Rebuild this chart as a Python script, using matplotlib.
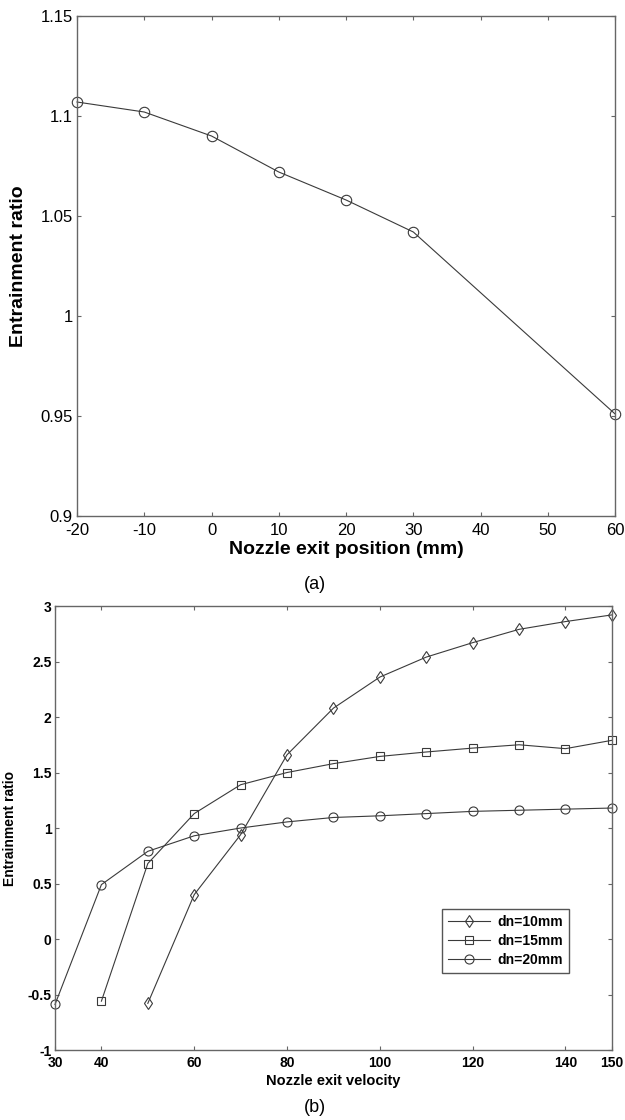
import matplotlib.pyplot as plt

plt.rcParams['font.family'] = ['Liberation Sans', 'DejaVu Sans']
plt.rcParams['axes.unicode_minus'] = False

# (a) entrainment ratio vs nozzle exit position
pos_mm = [-20, -10, 0, 10, 20, 30, 60]
ratio_pos = [1.107, 1.102, 1.090, 1.072, 1.058, 1.042, 0.951]
pos_ticks = [-20, -10, 0, 10, 20, 30, 40, 50, 60]
ratio_ticks_a = [0.9, 0.95, 1.0, 1.05, 1.1, 1.15]
ratio_labels_a = ['0.9', '0.95', '1', '1.05', '1.1', '1.15']

# (b) entrainment ratio vs nozzle exit velocity
vel_10 = [50, 60, 70, 80, 90, 100, 110, 120, 130, 140, 150]
ratio_10 = [-0.58, 0.40, 0.94, 1.66, 2.08, 2.36, 2.54, 2.67, 2.79, 2.86, 2.92]
vel_15 = [40, 50, 60, 70, 80, 90, 100, 110, 120, 130, 140, 150]
ratio_15 = [-0.56, 0.68, 1.13, 1.39, 1.50, 1.58, 1.645, 1.685, 1.72, 1.75, 1.715, 1.79]
vel_20 = [30, 40, 50, 60, 70, 80, 90, 100, 110, 120, 130, 140, 150]
ratio_20 = [-0.59, 0.49, 0.79, 0.93, 1.0, 1.055, 1.095, 1.11, 1.13, 1.15, 1.16, 1.17, 1.18]
vel_ticks = [30, 40, 60, 80, 100, 120, 140, 150]
ratio_ticks_b = [-1, -0.5, 0, 0.5, 1, 1.5, 2, 2.5, 3]
ratio_labels_b = ['-1', '-0.5', '0', '0.5', '1', '1.5', '2', '2.5', '3']

line_col = '#3a3a3a'
spine_col = '#666666'

fig = plt.figure(figsize=(6.25, 11.2), dpi=100)

def style_axes(ax, size, weight, xpad, ypad):
    for s in ax.spines.values():
        s.set_color(spine_col)
        s.set_linewidth(1.0)
    ax.tick_params(direction='in', length=3, width=0.8, color=spine_col,
                   top=True, right=True, labelsize=size)
    ax.tick_params(axis='x', pad=xpad)
    ax.tick_params(axis='y', pad=ypad)
    for lab in ax.get_xticklabels() + ax.get_yticklabels():
        lab.set_fontweight(weight)

# ---- (a)
ax1 = fig.add_axes([0.1232, 0.5393, 0.861, 0.4464])
ax1.plot(pos_mm, ratio_pos, color=line_col, lw=0.8, marker='o', ms=7.5,
         mfc='none', mec=line_col, mew=0.8, clip_on=False)
ax1.set_xlim(-20, 60)
ax1.set_ylim(0.9, 1.15)
ax1.set_xticks(pos_ticks)
ax1.set_yticks(ratio_ticks_a)
ax1.set_yticklabels(ratio_labels_a)
style_axes(ax1, 12, 'normal', 5, 3)
ax1.set_xlabel('Nozzle exit position (mm)', fontsize=14, fontweight='bold', labelpad=2)
ax1.set_ylabel('Entrainment ratio', fontsize=14, fontweight='bold')
ax1.yaxis.set_label_coords(-0.093, 0.5)

# ---- (b)
ax2 = fig.add_axes([0.088, 0.0625, 0.891, 0.3964])
ax2.plot(vel_10, ratio_10, color=line_col, lw=0.8, marker='d', ms=6.5,
         mfc='none', mec=line_col, mew=0.8, clip_on=False, label='dn=10mm')
ax2.plot(vel_15, ratio_15, color=line_col, lw=0.8, marker='s', ms=6,
         mfc='none', mec=line_col, mew=0.8, clip_on=False, label='dn=15mm')
ax2.plot(vel_20, ratio_20, color=line_col, lw=0.8, marker='o', ms=6.5,
         mfc='none', mec=line_col, mew=0.8, clip_on=False, label='dn=20mm')
ax2.set_xlim(30, 150)
ax2.set_ylim(-1, 3)
ax2.set_xticks(vel_ticks)
ax2.set_yticks(ratio_ticks_b)
ax2.set_yticklabels(ratio_labels_b)
style_axes(ax2, 10, 'bold', 4, 2.5)
ax2.set_xlabel('Nozzle exit velocity', fontsize=10.5, fontweight='bold', labelpad=3)
ax2.set_ylabel('Entrainment ratio', fontsize=10, fontweight='bold')
ax2.yaxis.set_label_coords(-0.068, 0.5)

leg = ax2.legend(loc='upper left', bbox_to_anchor=(0.695, 0.318), borderaxespad=0,
                 fancybox=False, edgecolor='#555555', framealpha=1,
                 prop={'size': 10, 'weight': 'bold'}, handlelength=3.0,
                 handletextpad=0.5, labelspacing=0.35, borderpad=0.45)
leg.get_frame().set_linewidth(1.0)

fig.text(0.504, 0.478, '(a)', ha='center', va='center', fontsize=13)
fig.text(0.504, 0.0116, '(b)', ha='center', va='center', fontsize=13)

fig.savefig('out.png', dpi=100)
